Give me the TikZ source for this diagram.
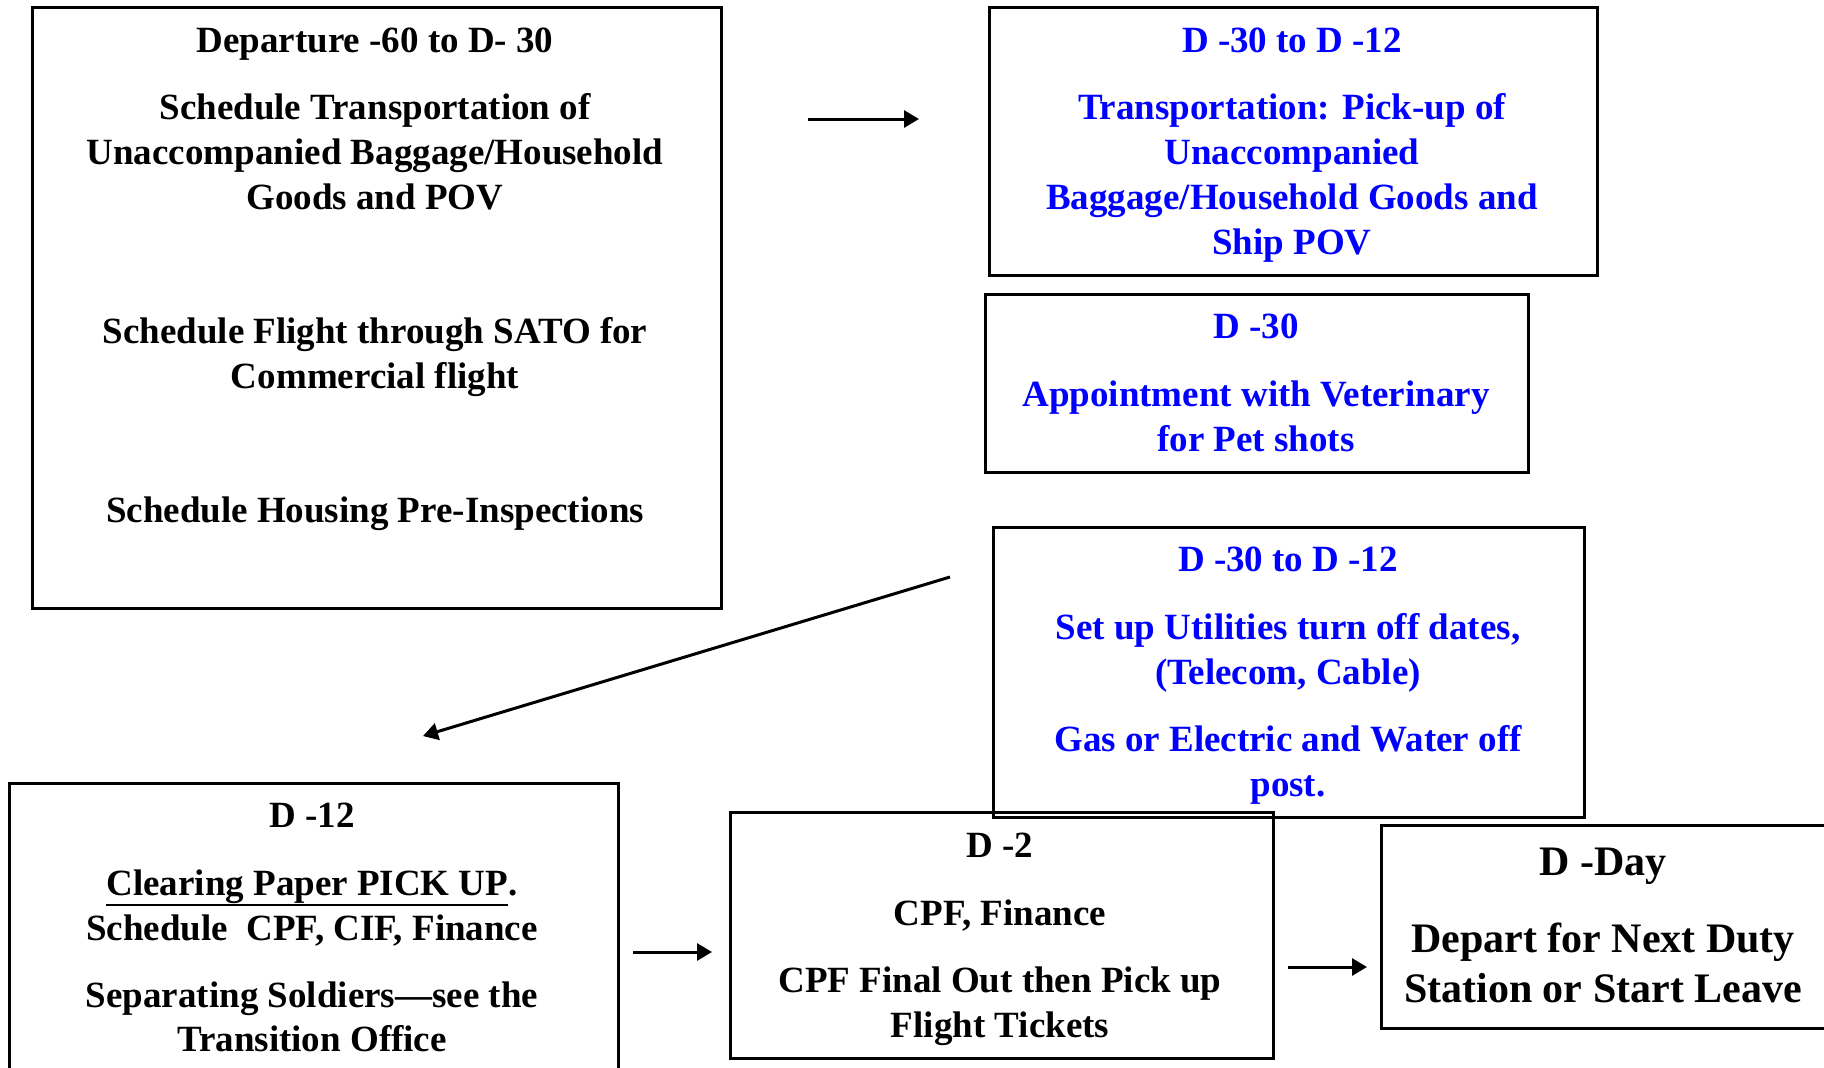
\documentclass[tikz,border=0pt]{standalone}
\usepackage{fontspec}
\setmainfont{Liberation Serif}
\usetikzlibrary{arrows.meta}
\definecolor{tblue}{RGB}{0,0,255}
\newcommand\thickul[1]{\leavevmode\vtop{\hbox{#1}\kern0.5pt\hrule height 2.6pt}}
\tikzset{
  stepbox/.style={draw=black, line width=2.5pt, inner sep=0pt, anchor=north west},
  txt/.style={inner sep=0pt, anchor=base, font=\fontsize{37}{45}\selectfont\bfseries},
  btxt/.style={txt, text=tblue},
  gtxt/.style={txt, font=\fontsize{42}{50}\selectfont\bfseries},
  arr/.style={line width=3pt, -{Triangle[length=15pt,width=17pt]}}
}
\begin{document}
\begin{tikzpicture}[x=1pt,y=-1pt]
\useasboundingbox (0,0) rectangle (1824,1068);
\clip (0,0) rectangle (1824,1068);
% boxes
\node[stepbox, minimum width=689pt, minimum height=601pt] (a) at (31,6) {};
\node[stepbox, minimum width=608pt, minimum height=268pt] (b) at (988,6) {};
\node[stepbox, minimum width=543pt, minimum height=178pt] (c) at (984,293) {};
\node[stepbox, minimum width=591pt, minimum height=290pt] (d) at (992,526) {};
\node[stepbox, minimum width=609pt, minimum height=320pt] (e) at (8,782) {};
\node[stepbox, minimum width=543pt, minimum height=246pt] (f) at (729,811) {};
\node[stepbox, minimum width=446pt, minimum height=203pt] (g) at (1380,824) {};
% box A text
\node[txt] (a1) at (375,52) {Departure -60 to D- 30};
\node[txt] (a2) at (375,119) {Schedule Transportation of};
\node[txt] (a3) at (375,164) {Unaccompanied Baggage/Household};
\node[txt] (a4) at (375,209) {Goods and POV};
\node[txt] (a5) at (375,343) {Schedule Flight through SATO for};
\node[txt] (a6) at (375,388) {Commercial flight};
\node[txt] (a7) at (375,522) {Schedule Housing Pre-Inspections};
% box B text
\node[btxt] (b1) at (1292,52) {D -30 to D -12};
\node[btxt] (b2) at (1292,119) {Transportation: Pick-up of};
\node[btxt] (b3) at (1292,164) {Unaccompanied};
\node[btxt] (b4) at (1292,209) {Baggage/Household Goods and};
\node[btxt] (b5) at (1292,254) {Ship POV};
% box C text
\node[btxt] (c1) at (1256,338) {D -30};
\node[btxt] (c2) at (1256,406) {Appointment with Veterinary};
\node[btxt] (c3) at (1256,451) {for Pet shots};
% box D text
\node[btxt] (d1) at (1288,571) {D -30 to D -12};
\node[btxt] (d2) at (1288,639) {Set up Utilities turn off dates,};
\node[btxt] (d3) at (1288,684) {(Telecom, Cable)};
\node[btxt] (d4) at (1288,751) {Gas or Electric and Water off};
\node[btxt] (d5) at (1288,796) {post.};
% box E text
\node[txt] (e1) at (312,827) {D -12};
\node[txt] (e2) at (312,895) {\thickul{Clearing Paper PICK UP}.};
\node[txt] (e3) at (312,940) {Schedule\ \ CPF, CIF, Finance};
\node[txt] (e4) at (312,1007) {Separating Soldiers—see the};
\node[txt] (e5) at (312,1051) {Transition Office};
% box F text
\node[txt] (f1) at (1000,857) {D -2};
\node[txt] (f2) at (1000,925) {CPF, Finance};
\node[txt] (f3) at (1000,992) {CPF Final Out then Pick up};
\node[txt] (f4) at (1000,1037) {Flight Tickets};
% box G text
\node[gtxt] (g1) at (1603,875) {D -Day};
\node[gtxt] (g2) at (1603,952) {Depart for Next Duty};
\node[gtxt] (g3) at (1603,1002) {Station or Start Leave};
% connectors
\coordinate (a-out) at (808,119);
\coordinate (b-in) at (919,119);
\coordinate (d-out) at (950,577);
\coordinate (e-in) at (423,736);
\coordinate (e-out) at (633,952);
\coordinate (f-in) at (712,952);
\coordinate (f-out) at (1288,967);
\coordinate (g-in) at (1367,967);
\draw[arr] (a-out) -- (b-in);
\draw[arr] (d-out) -- (e-in);
\draw[arr] (e-out) -- (f-in);
\draw[arr] (f-out) -- (g-in);
\end{tikzpicture}
\end{document}
